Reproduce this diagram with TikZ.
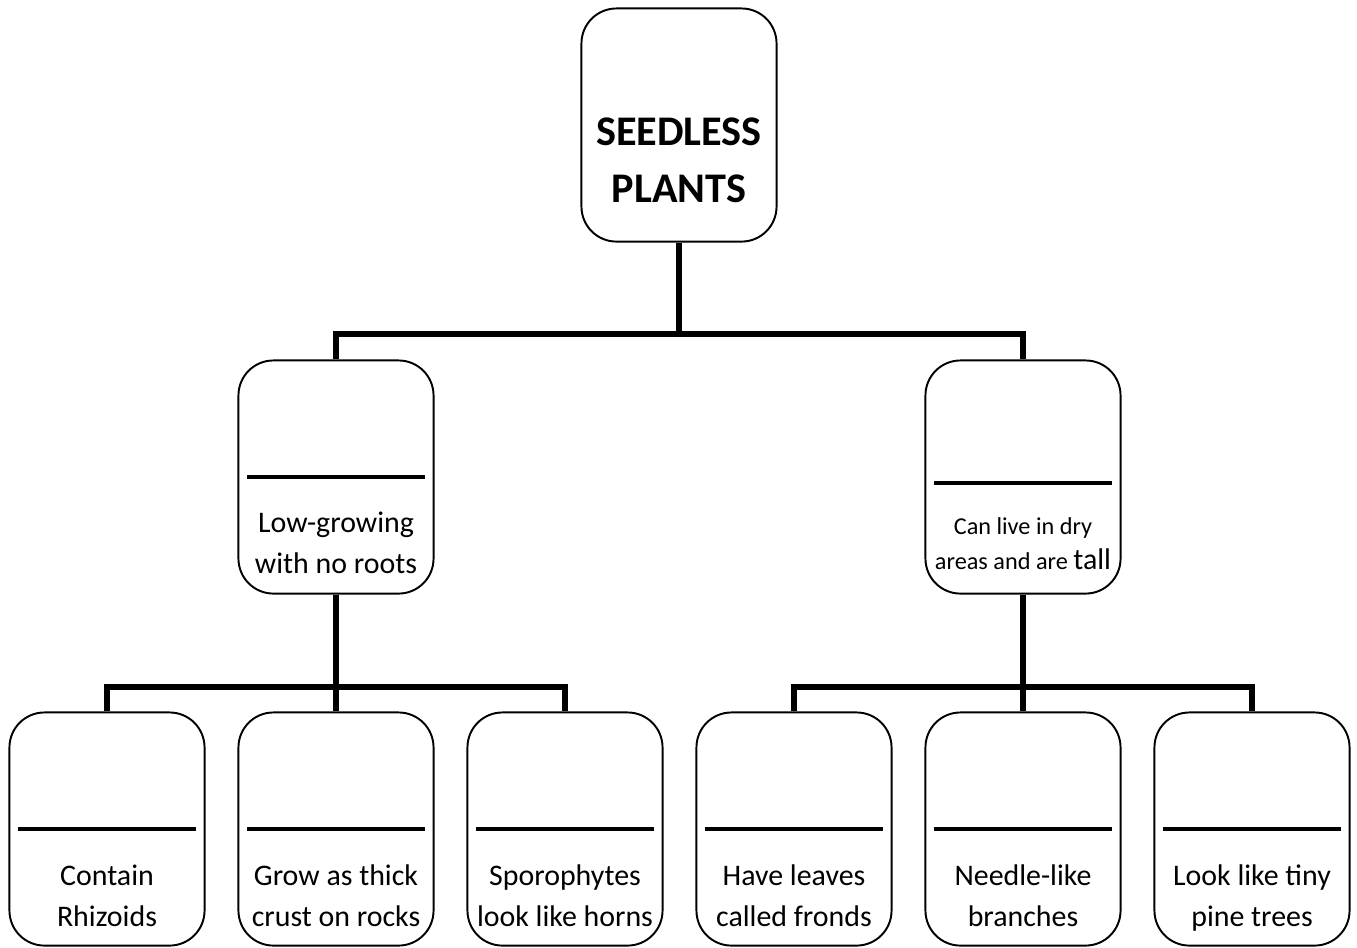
\documentclass[tikz,border=0pt]{standalone}
\usepackage{fontspec}
\setmainfont{Carlito}
\begin{document}
\begin{tikzpicture}[x=0.01cm,y=-0.01cm,
  box/.style={draw, line width=0.55pt, rounded corners=0.35cm, minimum width=1.95cm, minimum height=2.33cm, inner sep=0pt},
  conn/.style={line width=1.45pt},
  divider/.style={line width=1.15pt},
  txt/.style={anchor=base, inner sep=0pt, font=\fontsize{8.5}{11.8}\selectfont},
  smalltxt/.style={anchor=base, inner sep=0pt, font=\fontsize{6.9}{10.2}\selectfont},
  titletxt/.style={anchor=base, inner sep=0pt, font=\fontsize{12}{16.3}\selectfont\bfseries}]
\useasboundingbox (0,0) rectangle (1357,947);
\newcommand{\twolines}[2]{\begin{tabular}[t]{@{}c@{}}#1\\#2\end{tabular}}

% boxes
\node[box] (top) at (679,125) {};
\node[box] (mid1) at (336,477) {};
\node[box] (mid2) at (1023,477) {};
\node[box] (b1) at (107,829) {};
\node[box] (b2) at (336,829) {};
\node[box] (b3) at (565,829) {};
\node[box] (b4) at (794,829) {};
\node[box] (b5) at (1023,829) {};
\node[box] (b6) at (1252,829) {};

% dividers
\draw[divider] ([xshift=0.1cm]mid1.west) -- ([xshift=-0.1cm]mid1.east);
\draw[divider] ([xshift=0.1cm,yshift=-0.06cm]mid2.west) -- ([xshift=-0.1cm,yshift=-0.06cm]mid2.east);
\foreach \b in {b1,b2,b3,b4,b5,b6}{
  \draw[divider] ([xshift=0.1cm]\b.west) -- ([xshift=-0.1cm]\b.east);
}

% texts
\node[titletxt] (ttop) at (679,145) {\twolines{SEEDLESS}{PLANTS}};
\node[txt] (tmid1) at (336,532) {\twolines{Low-growing}{with no roots}};
\node[smalltxt] (tmid2) at (1023,534) {\twolines{Can live in dry}{areas and are {\fontsize{8.5}{10.2}\selectfont tall}}};
\node[txt] (tb1) at (107,885) {\twolines{Contain}{Rhizoids}};
\node[txt] (tb2) at (336,885) {\twolines{Grow as thick}{crust on rocks}};
\node[txt] (tb3) at (565,885) {\twolines{Sporophytes}{look like horns}};
\node[txt] (tb4) at (794,885) {\twolines{Have leaves}{called fronds}};
\node[txt] (tb5) at (1023,885) {\twolines{Needle-like}{branches}};
\node[txt] (tb6) at (1252,885) {\twolines{Look like tiny}{pine trees}};

% connectors
\coordinate (j1) at (679,334);
\coordinate (j2) at (336,687);
\coordinate (j3) at (1023,687);
\draw[conn] (top.south) -- (j1);
\draw[conn] (mid1.north) -- (mid1.north |- j1) -- (mid2.north |- j1) -- (mid2.north);
\draw[conn] (mid1.south) -- (j2);
\draw[conn] (b1.north) -- (b1.north |- j2) -- (b3.north |- j2) -- (b3.north);
\draw[conn] (j2) -- (b2.north);
\draw[conn] (mid2.south) -- (j3);
\draw[conn] (b4.north) -- (b4.north |- j3) -- (b6.north |- j3) -- (b6.north);
\draw[conn] (j3) -- (b5.north);
\end{tikzpicture}
\end{document}
